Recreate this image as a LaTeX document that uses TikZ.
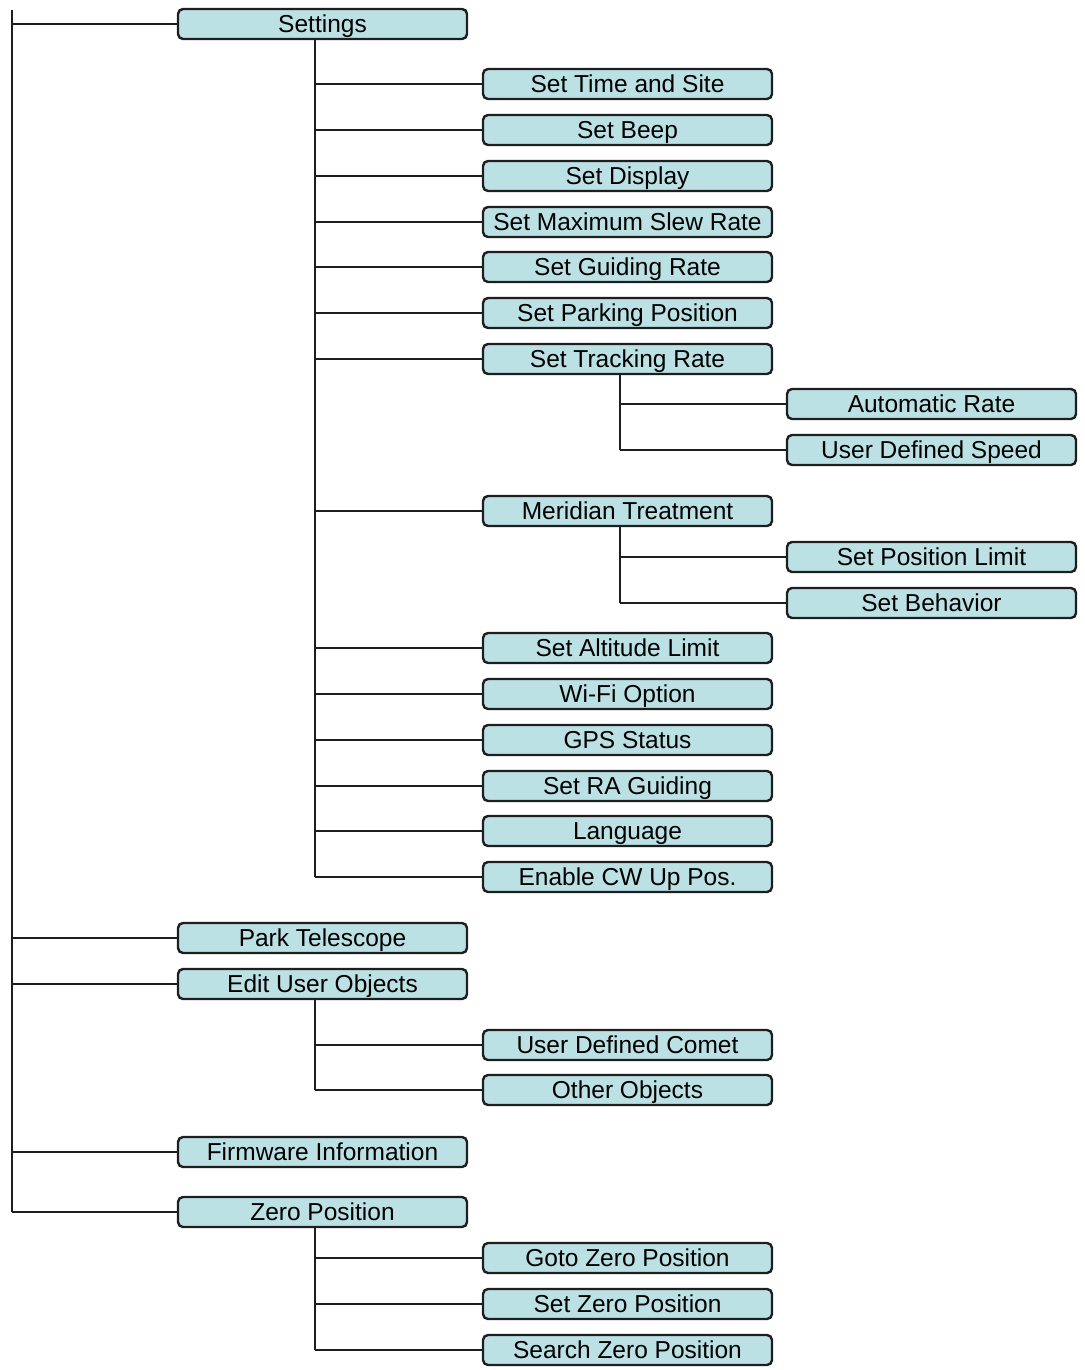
\documentclass[tikz,border=0pt]{standalone}
\usepackage{fontspec}
\setmainfont{Liberation Sans}
\definecolor{boxfill}{RGB}{187,225,229}
\definecolor{edge}{RGB}{30,30,30}
\begin{document}
\begin{tikzpicture}[x=1pt,y=-1pt,
  box/.style={draw=edge, line width=2.4pt, fill=boxfill, rounded corners=5pt,
    minimum width=289pt, minimum height=30pt, inner sep=0pt,
    text height=17.6pt, text depth=0pt,
    font=\fontsize{24.5}{28}\selectfont, anchor=center},
  conn/.style={line width=2.4pt, draw=edge}]
\useasboundingbox (0,0) rectangle (1084,1370);

% level 1
\node[box] (settings) at (322.5,24) {Settings};
\node[box] (park) at (322.5,938) {Park Telescope};
\node[box] (edit) at (322.5,984) {Edit User Objects};
\node[box] (firm) at (322.5,1152) {Firmware Information};
\node[box] (zero) at (322.5,1212) {Zero Position};

% level 2 (settings)
\node[box] (time) at (627.5,84) {Set Time and Site};
\node[box] (beep) at (627.5,130) {Set Beep};
\node[box] (disp) at (627.5,176) {Set Display};
\node[box] (slew) at (627.5,222) {Set Maximum Slew Rate};
\node[box] (guid) at (627.5,267) {Set Guiding Rate};
\node[box] (parkpos) at (627.5,313) {Set Parking Position};
\node[box] (track) at (627.5,359) {Set Tracking Rate};
\node[box] (merid) at (627.5,511) {Meridian Treatment};
\node[box] (alt) at (627.5,648) {Set Altitude Limit};
\node[box] (wifi) at (627.5,694) {Wi-Fi Option};
\node[box] (gps) at (627.5,740) {GPS Status};
\node[box] (ra) at (627.5,786) {Set RA Guiding};
\node[box] (lang) at (627.5,831) {Language};
\node[box] (cw) at (627.5,877) {Enable CW Up Pos.};

% level 3
\node[box] (auto) at (931.5,404) {Automatic Rate};
\node[box] (uds) at (931.5,450) {User Defined Speed};
\node[box] (poslim) at (931.5,557) {Set Position Limit};
\node[box] (behav) at (931.5,603) {Set Behavior};

% level 2 (edit user objects)
\node[box] (comet) at (627.5,1045) {User Defined Comet};
\node[box] (other) at (627.5,1090) {Other Objects};

% level 2 (zero position)
\node[box] (gotoz) at (627.5,1258) {Goto Zero Position};
\node[box] (setz) at (627.5,1304) {Set Zero Position};
\node[box] (searchz) at (627.5,1350) {Search Zero Position};

% trunk coordinates
\coordinate (root) at (12,10);
\coordinate (ta) at (315,0);
\coordinate (tb) at (620,0);

% root line
\draw[conn] (root) -- (zero.west -| root);
\foreach \n in {settings,park,edit,firm,zero}
  \draw[conn] (\n.west -| root) -- (\n.west);

% settings trunk
\draw[conn] (settings.south -| ta) -- (cw.west -| ta);
\foreach \n in {time,beep,disp,slew,guid,parkpos,track,merid,alt,wifi,gps,ra,lang,cw}
  \draw[conn] (\n.west -| ta) -- (\n.west);

% tracking rate
\draw[conn] (track.south -| tb) -- (uds.west -| tb);
\foreach \n in {auto,uds}
  \draw[conn] (\n.west -| tb) -- (\n.west);

% meridian
\draw[conn] (merid.south -| tb) -- (behav.west -| tb);
\foreach \n in {poslim,behav}
  \draw[conn] (\n.west -| tb) -- (\n.west);

% edit user objects
\draw[conn] (edit.south -| ta) -- (other.west -| ta);
\foreach \n in {comet,other}
  \draw[conn] (\n.west -| ta) -- (\n.west);

% zero position
\draw[conn] (zero.south -| ta) -- (searchz.west -| ta);
\foreach \n in {gotoz,setz,searchz}
  \draw[conn] (\n.west -| ta) -- (\n.west);
\end{tikzpicture}
\end{document}
